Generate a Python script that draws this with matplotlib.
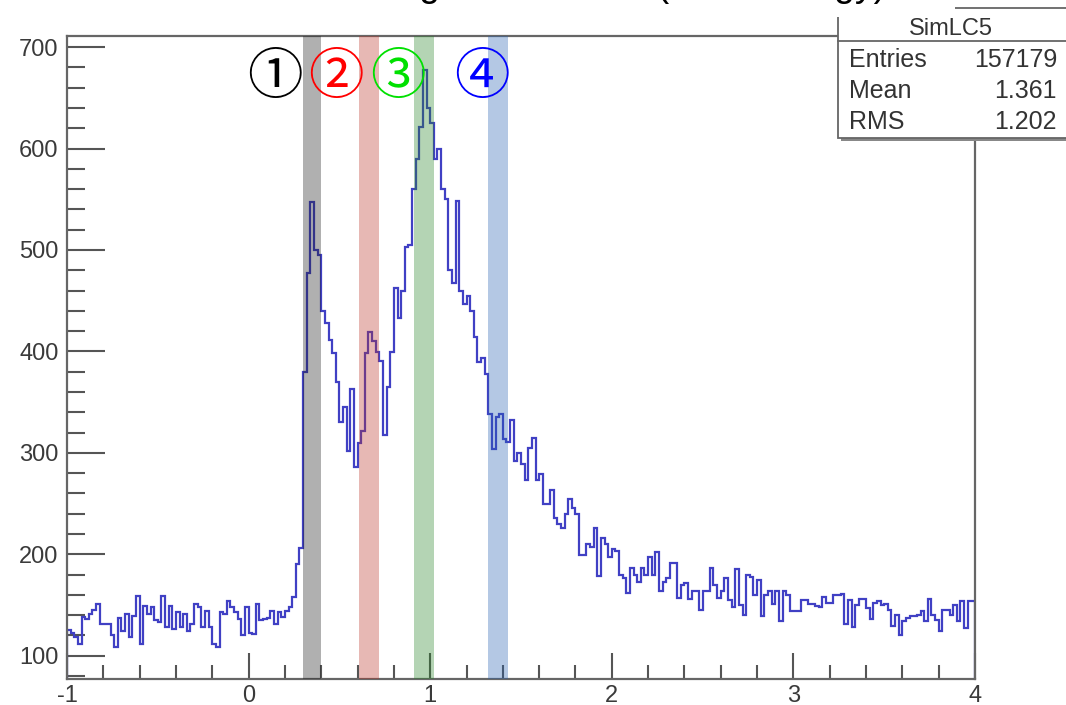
import numpy as np
import matplotlib
matplotlib.use("Agg")
import matplotlib.pyplot as plt
from matplotlib.patches import Rectangle
from matplotlib.lines import Line2D
from matplotlib.ticker import MultipleLocator

plt.rcParams['axes.unicode_minus'] = False
plt.rcParams['font.family'] = ['Liberation Sans', 'DejaVu Sans']

# histogram: 250 bins from -1 to 4
x_lo, x_hi, n_bins = -1.0, 4.0, 250
counts = [
    125, 122, 118, 112, 138, 136, 141, 145, 151, 131,
    131, 131, 120, 109, 137, 124, 141, 118, 139, 159,
    112, 149, 141, 148, 135, 133, 159, 128, 149, 126,
    143, 128, 141, 124, 131, 151, 148, 128, 144, 128,
    112, 109, 143, 141, 154, 148, 143, 136, 120, 148,
    122, 121, 151, 135, 136, 137, 144, 131, 143, 138,
    144, 148, 158, 190, 206, 380, 477, 547, 500, 495,
    440, 428, 411, 398, 370, 330, 345, 302, 363, 286,
    310, 322, 398, 419, 410, 399, 391, 318, 365, 399,
    463, 433, 460, 503, 505, 560, 590, 621, 677, 640,
    625, 590, 600, 560, 550, 480, 467, 548, 460, 447,
    455, 440, 414, 390, 394, 378, 338, 304, 335, 338,
    314, 311, 332, 292, 300, 289, 273, 305, 315, 273,
    279, 250, 250, 263, 236, 230, 226, 240, 254, 246,
    240, 199, 199, 210, 207, 226, 179, 216, 210, 197,
    205, 203, 180, 177, 162, 186, 180, 173, 186, 180,
    197, 180, 202, 164, 173, 177, 191, 191, 157, 170,
    172, 156, 164, 164, 145, 164, 164, 186, 170, 157,
    164, 177, 155, 148, 185, 150, 140, 180, 178, 160,
    175, 139, 160, 164, 151, 164, 134, 164, 160, 144,
    144, 144, 155, 155, 151, 151, 149, 148, 158, 152,
    152, 160, 160, 161, 131, 155, 128, 150, 156, 156,
    147, 136, 152, 154, 150, 151, 145, 129, 140, 120,
    134, 137, 139, 139, 140, 144, 134, 156, 140, 135,
    124, 145, 145, 140, 150, 134, 154, 127, 154, 154,
]

# highlighted energy windows
band_lo = [0.30, 0.61, 0.91, 1.32]
band_hi = [0.40, 0.72, 1.02, 1.43]
band_colors = ['#1d1d1d', '#bd3429', '#288428', '#2862b2']
marks = ['\u2460', '\u2461', '\u2462', '\u2463']
mark_x = [0.145, 0.48, 0.82, 1.285]
mark_colors = ['#000000', '#ff0000', '#00e000', '#0000ff']

stat_names = ['Entries', 'Mean', 'RMS']
stat_values = ['157179', '1.361', '1.202']
hist_name = 'SimLC5'
title = 'Simulated Light Collection (Total energy)'

W, H = 1066, 705
fig = plt.figure(figsize=(W / 100, H / 100), dpi=100)


def fx(p):
    return p / W


def fy(p):
    return 1 - p / H


left, right, top, bottom = 67, 975, 36, 679
ax = fig.add_axes([fx(left), fy(bottom), fx(right - left), (bottom - top) / H])

edges = np.linspace(x_lo, x_hi, n_bins + 1)
ax.stairs(counts, edges, baseline=0, color='#4040c4', lw=1.6, zorder=2)

for lo, hi, c in zip(band_lo, band_hi, band_colors):
    ax.axvspan(lo, hi, color=c, alpha=0.35, lw=0, zorder=3)

for m, xm, c in zip(marks, mark_x, mark_colors):
    ax.text(xm, 669, m, color=c, fontsize=40, ha='center', va='center',
            family=['Noto Sans CJK JP', 'DejaVu Sans'], zorder=4)

ax.set_xlim(x_lo, x_hi)
ax.set_ylim(77, 711)
ax.xaxis.set_major_locator(MultipleLocator(1))
ax.xaxis.set_minor_locator(MultipleLocator(0.2))
ax.yaxis.set_major_locator(MultipleLocator(100))
ax.yaxis.set_minor_locator(MultipleLocator(20))
ax.tick_params(axis='y', which='major', direction='in', length=27, width=1.5,
               color='#555555', labelsize=17, labelcolor='#3a3a3a', pad=6)
ax.tick_params(axis='y', which='minor', direction='in', length=13, width=1.5,
               color='#555555')
ax.tick_params(axis='x', which='major', direction='in', length=19, width=1.5,
               color='#555555', labelsize=17, labelcolor='#3a3a3a', pad=4)
ax.tick_params(axis='x', which='minor', direction='in', length=10, width=1.5,
               color='#555555')
for s in ax.spines.values():
    s.set_color('#666666')
    s.set_linewidth(1.6)

# stats box
shadow = Rectangle((fx(841), fy(141)), fx(240), 133 / H, transform=fig.transFigure,
                   facecolor='#888888', edgecolor='none', zorder=4)
box = Rectangle((fx(838), fy(138)), fx(240), 130 / H, transform=fig.transFigure,
                facecolor='white', edgecolor='#666666', lw=1.3, zorder=5)
fig.add_artist(shadow)
fig.add_artist(box)
fig.add_artist(Line2D([fx(838), fx(1070)], [fy(41), fy(41)], transform=fig.transFigure,
                      color='#666666', lw=1.3, zorder=6))
# title pave covers the top-left corner of the stats box
fig.add_artist(Rectangle((fx(700), fy(17)), fx(255), 17 / H, transform=fig.transFigure,
                         facecolor='white', edgecolor='none', zorder=6))
fig.text(fx(951), fy(29), hist_name, ha='center', va='center', fontsize=17,
         color='#333333', zorder=7)
for k, (n, v) in enumerate(zip(stat_names, stat_values)):
    yy = fy(60 + 31 * k)
    fig.text(fx(849), yy, n, ha='left', va='center', fontsize=18, color='#333333', zorder=7)
    fig.text(fx(1057), yy, v, ha='right', va='center', fontsize=18, color='#333333', zorder=7)

fig.text(fx(550), fy(-4), title, ha='center', va='baseline', fontsize=27,
         color='black', zorder=8)

fig.savefig('out.png', dpi=100)
